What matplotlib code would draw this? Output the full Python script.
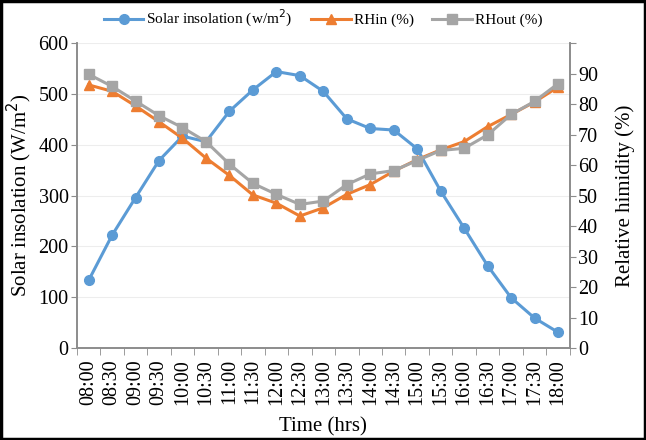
import numpy as np
import matplotlib
matplotlib.use("Agg")
import matplotlib.pyplot as plt
from matplotlib.patches import Rectangle

plt.rcParams['font.family'] = ['Liberation Serif', 'DejaVu Serif']

times = ["08:00", "08:30", "09:00", "09:30", "10:00", "10:30", "11:00",
         "11:30", "12:00", "12:30", "13:00", "13:30", "14:00", "14:30",
         "15:00", "15:30", "16:00", "16:30", "17:00", "17:30", "18:00"]
solar = [133, 222, 296, 369, 417, 406, 466, 508, 544, 536, 505,
         451, 432, 429, 392, 309, 236, 162, 99, 59, 31]
rh_in = [86.3, 84.2, 79.4, 74.2, 68.8, 62.3, 56.6, 50.2, 47.5, 43.3, 46.0,
         50.4, 53.6, 58.0, 61.8, 65.0, 67.7, 72.6, 76.6, 80.7, 85.6]
rh_out = [89.8, 85.8, 81.0, 76.2, 72.3, 67.7, 60.3, 54.0, 50.4, 47.1, 48.2,
          53.6, 57.1, 58.2, 61.5, 64.8, 65.5, 69.9, 76.6, 80.9, 86.7]

blue = '#5B9BD5'
orange = '#ED7D31'
gray = '#A5A5A5'
spine_c = '#8C8C8C'

fig = plt.figure(figsize=(6.46, 4.40), dpi=100)
ax = fig.add_axes([0.119, 0.209, 0.763, 0.693])
ax2 = ax.twinx()

x = np.arange(len(times))
l1, = ax.plot(x, solar, '-o', color=blue, lw=2.2, ms=7, zorder=3,
              label='Solar insolation (w/m$^2$)')
l2, = ax2.plot(x, rh_in, '-^', color=orange, lw=2.2, ms=7.5,
               label='RHin (%)')
l3, = ax2.plot(x, rh_out, '-s', color=gray, lw=2.2, ms=6.5,
               label='RHout (%)')

ax.set_xlim(-0.5, len(times) - 0.5)
ax.set_ylim(0, 600)
ax.set_yticks(range(0, 601, 100))
ax2.set_ylim(0, 100)
ax2.set_yticks(range(0, 101, 10))
ax2.set_yticklabels([str(v) for v in range(0, 91, 10)] + [''])

ax.set_xticks(x)
ax.set_xticklabels(times, rotation=90, fontsize=14.5)
ax.set_xticks(np.arange(-0.5, len(times), 1), minor=True)
ax.tick_params(axis='x', which='major', length=0, pad=8)
ax.tick_params(axis='x', which='minor', length=5, color=spine_c)
ax.tick_params(axis='y', length=4, color=spine_c, labelsize=14.5, pad=2)
ax2.tick_params(axis='y', length=4, color=spine_c, labelsize=14.5, pad=2)

ax.yaxis.grid(True, color='#EDEDED', lw=0.8)
ax.set_axisbelow(True)

for a in (ax, ax2):
    a.spines['top'].set_visible(False)
    for s in ('left', 'right', 'bottom'):
        a.spines[s].set_color(spine_c)
        a.spines[s].set_linewidth(1.2)

ax.set_xlabel('Time (hrs)', fontsize=15, labelpad=9)
ax.set_ylabel('Solar insolation (W/m$^2$)', fontsize=15, labelpad=3)
ax2.set_ylabel('Relative himidity (%)', fontsize=15, labelpad=12)

fig.legend(handles=[l1, l2, l3], loc='center', bbox_to_anchor=(0.5, 0.957),
           ncol=3, frameon=False, fontsize=11, handlelength=2.6,
           columnspacing=1.2, handletextpad=0.2)

fig.patches.append(Rectangle((0.002, 0.003), 0.996, 0.994, transform=fig.transFigure,
                             fill=False, edgecolor='black', lw=2.5))

plt.savefig('out.png', dpi=100)
